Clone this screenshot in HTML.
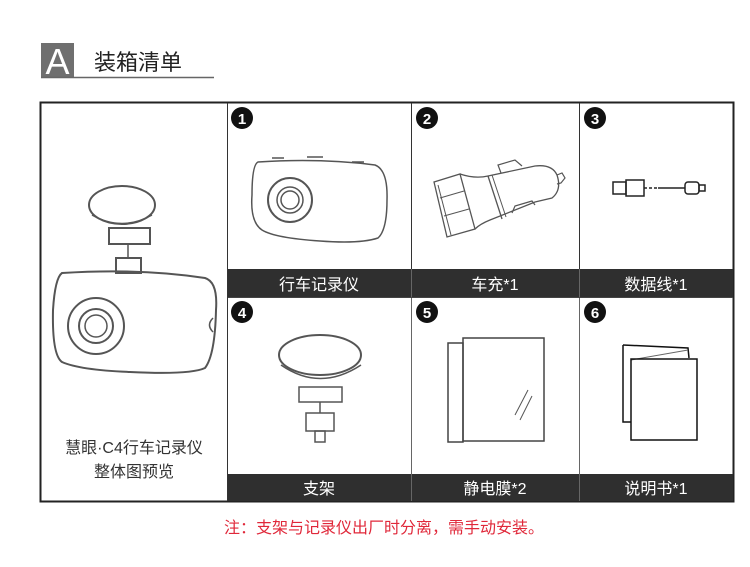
<!DOCTYPE html>
<html><head><meta charset="utf-8"><style>
html,body{margin:0;padding:0;background:#fff;width:750px;height:567px;overflow:hidden}
svg{display:block}
text{font-family:"Liberation Sans","Noto Sans CJK SC",sans-serif}
</style></head><body>
<svg width="750" height="567" viewBox="0 0 750 567" xmlns="http://www.w3.org/2000/svg">
<rect x="41" y="43" width="33" height="34" fill="#6f6f6f"/>
<text x="57.5" y="74" font-size="36" fill="#fff" text-anchor="middle">A</text>
<text x="94" y="70" font-size="22" fill="#222">装箱清单</text>
<line x1="41" y1="77.5" x2="214" y2="77.5" stroke="#666" stroke-width="1.5"/>

<rect x="40.5" y="102.5" width="693" height="399" fill="#fff" stroke="#222" stroke-width="2"/>
<line x1="227.5" y1="103" x2="227.5" y2="501" stroke="#333" stroke-width="1"/>
<line x1="411.5" y1="103" x2="411.5" y2="501" stroke="#333" stroke-width="1"/>
<line x1="579.5" y1="103" x2="579.5" y2="501" stroke="#333" stroke-width="1"/>
<rect x="228" y="269" width="505" height="28" fill="#2f2f2f"/>
<rect x="228" y="474" width="505" height="27" fill="#2f2f2f"/>
<line x1="411.5" y1="269" x2="411.5" y2="501" stroke="#666" stroke-width="1"/>
<line x1="579.5" y1="269" x2="579.5" y2="501" stroke="#666" stroke-width="1"/>
<line x1="228" y1="297.5" x2="733" y2="297.5" stroke="#444"/>

<g font-size="16" fill="#fff" text-anchor="middle">
<text x="319" y="290">行车记录仪</text>
<text x="495" y="290">车充*1</text>
<text x="656" y="290">数据线*1</text>
<text x="319" y="494">支架</text>
<text x="495" y="494">静电膜*2</text>
<text x="656" y="494">说明书*1</text>
</g>

<g font-size="15" fill="#fff" text-anchor="middle" font-weight="bold">
<circle cx="242" cy="118" r="11" fill="#111"/><text x="242" y="124">1</text>
<circle cx="427" cy="118" r="11" fill="#111"/><text x="427" y="124">2</text>
<circle cx="595" cy="118" r="11" fill="#111"/><text x="595" y="124">3</text>
<circle cx="242" cy="312" r="11" fill="#111"/><text x="242" y="318">4</text>
<circle cx="427" cy="312" r="11" fill="#111"/><text x="427" y="318">5</text>
<circle cx="595" cy="312" r="11" fill="#111"/><text x="595" y="318">6</text>
</g>

<g fill="none" stroke="#555" stroke-width="1.5">
<ellipse cx="122" cy="205" rx="33" ry="19" stroke-width="2"/>
<path d="M92 215 Q122 232 152 215"/>
<rect x="109" y="228" width="41" height="16" stroke-width="2"/>
<rect x="116" y="258" width="25" height="15" stroke-width="2"/>
<line x1="128" y1="244" x2="128" y2="258"/>
<path d="M62 273 Q140 268 205 278 Q218 282 216 310 Q215 355 205 368 Q190 375 130 372 Q80 370 62 362 Q52 355 53 310 Q55 278 62 273 Z" stroke-width="2"/>
<circle cx="96" cy="326" r="28" stroke-width="2"/>
<circle cx="96" cy="326" r="17" stroke-width="2"/>
<circle cx="96" cy="326" r="11"/>
<path d="M213 318 Q206 325 213 332"/>

<path d="M258 162 Q320 158 375 165 Q388 170 387 200 Q387 230 378 238 Q360 244 320 241 Q275 238 262 230 Q250 222 252 195 Q252 165 258 162 Z"/>
<circle cx="290" cy="200" r="22" stroke-width="2"/>
<circle cx="290" cy="200" r="13"/>
<circle cx="290" cy="200" r="9"/>
<path d="M272 158 h12 M307 157 h16 M352 162 h12"/>

<!-- charger -->
<path d="M434 182 L460 174 L475 229 L447 237 Z" stroke-width="1.3"/>
<line x1="438" y1="185" x2="451" y2="235" stroke-width="1"/>
<line x1="440" y1="198" x2="464" y2="191" stroke-width="1"/>
<line x1="444" y1="216" x2="469" y2="209" stroke-width="1"/>
<path d="M460 174 Q475 179 488 176 L535 166 Q552 164 557 175 Q562 190 552 198 L535 202 L490 220 Q480 224 475 229" stroke-width="1.3"/>
<path d="M488 176 L502 219" stroke-width="1.3"/>
<line x1="492" y1="175" x2="506" y2="217" stroke-width="1"/>
<path d="M501 173 L498 165 L515 160 L522 166" stroke-width="1.2"/>
<path d="M512 213 L515 206 L532 201 L535 205" stroke-width="1.2"/>
<path d="M557 175 L562 173 L565 178 L561 183 L557 184" stroke-width="1.2"/>

<rect x="613" y="182" width="13" height="12" stroke="#222"/>
<rect x="626" y="180" width="18" height="16" stroke="#222"/>
<line x1="644" y1="188" x2="658" y2="188" stroke="#222" stroke-dasharray="3 2"/>
<line x1="658" y1="188" x2="685" y2="188" stroke="#222"/>
<rect x="685" y="182" width="14" height="12" rx="3" stroke="#222"/>
<rect x="699" y="185" width="6" height="6" stroke="#222"/>

<ellipse cx="320" cy="355" rx="41" ry="20" stroke-width="2"/>
<path d="M281 365 Q320 392 361 365"/>
<rect x="299" y="387" width="43" height="15"/>
<rect x="306" y="413" width="28" height="18"/>
<line x1="320" y1="402" x2="320" y2="413"/>
<rect x="315" y="431" width="10" height="11"/>

<rect x="448" y="343" width="15" height="99" stroke="#444"/>
<rect x="463" y="338" width="81" height="103" stroke="#444"/>
<line x1="515" y1="415" x2="528" y2="390" stroke-width="1"/>
<line x1="520" y1="420" x2="532" y2="396" stroke-width="1"/>

<path d="M623 345 L623 422 L631 422" stroke="#111"/>
<path d="M623 345 L688 348 L689 358" stroke="#111"/>
<line x1="631" y1="360" x2="688" y2="350" stroke="#666" stroke-width="1"/>
<rect x="631" y="359" width="66" height="81" stroke="#111"/>
</g>

<g font-size="16" fill="#333" text-anchor="middle">
<text x="134" y="453">慧眼·C4行车记录仪</text>
<text x="134" y="477">整体图预览</text>
</g>

<text x="224" y="533" font-size="16" fill="#e0283a">注：支架与记录仪出厂时分离，需手动安装。</text>
</svg>
</body></html>
